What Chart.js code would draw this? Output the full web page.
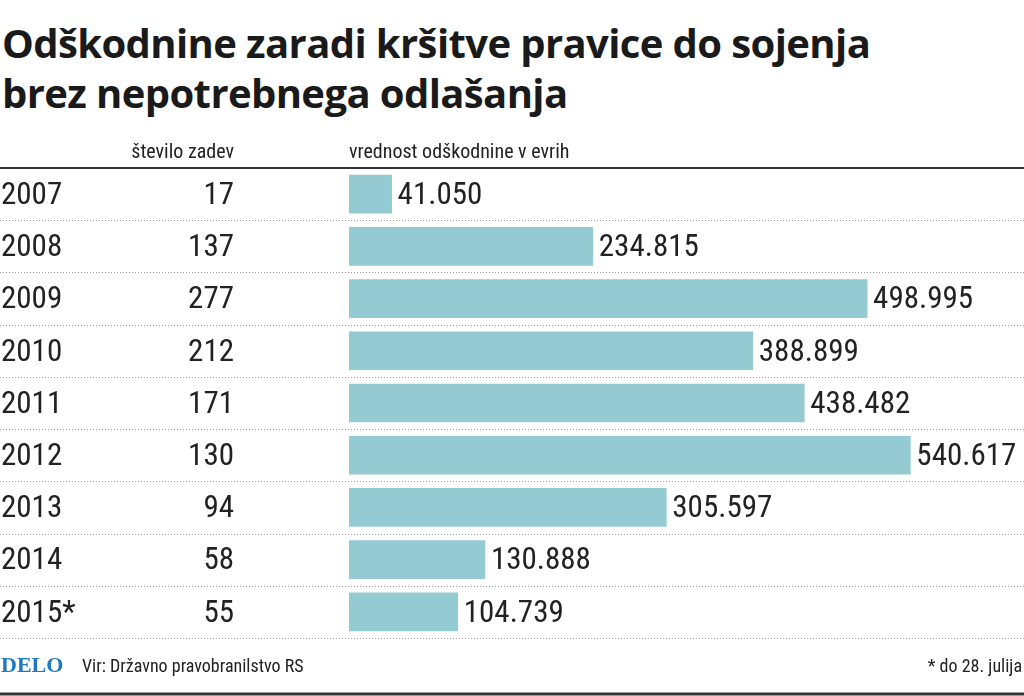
<!DOCTYPE html>
<html><head><meta charset="utf-8">
<script src="https://cdn.jsdelivr.net/npm/chart.js@4/dist/chart.umd.min.js"></script>
<style>
body{margin:0;background:#fff;overflow:hidden}
#wrap{position:relative;width:1024px;height:696px}
h1{position:absolute;left:2px;top:18px;margin:0;font:bold 40px "Open Sans",sans-serif;line-height:50px;color:#1a1a1a;letter-spacing:-0.6px}
canvas{position:absolute;left:0;top:0}
</style></head><body>
<div id="wrap">
<h1>Odškodnine zaradi kršitve pravice do sojenja<br>brez nepotrebnega odlašanja</h1>
<canvas id="c" width="1024" height="696"></canvas>
</div>
<script>
const years = ['2007','2008','2009','2010','2011','2012','2013','2014','2015*'];
const cases = [17,137,277,212,171,130,94,58,55];
const amounts = [41050,234815,498995,388899,438482,540617,305597,130888,104739];

const fmt = v => String(v).replace(/\B(?=(\d{3})+(?!\d))/g, '.');
const narrow = '"Roboto Condensed","Liberation Sans Narrow","Roboto",sans-serif';

const decor = {
  id: 'decor',
  afterDatasetsDraw(chart) {
    const ctx = chart.ctx, y = chart.scales.y, meta = chart.getDatasetMeta(0);
    const step = y.getPixelForValue(1) - y.getPixelForValue(0);
    ctx.save();
    ctx.fillStyle = '#222';
    ctx.font = '20px ' + narrow;
    ctx.textBaseline = 'alphabetic';
    ctx.textAlign = 'right';
    ctx.fillText('število zadev', 234, 158);
    ctx.textAlign = 'left';
    ctx.fillText('vrednost odškodnine v evrih', 349, 158);
    ctx.strokeStyle = '#333'; ctx.lineWidth = 2;
    ctx.beginPath(); ctx.moveTo(0, 168); ctx.lineTo(1024, 168); ctx.stroke();
    ctx.lineWidth = 3;
    ctx.beginPath(); ctx.moveTo(0, 694); ctx.lineTo(1024, 694); ctx.stroke();
    ctx.strokeStyle = '#999'; ctx.lineWidth = 1; ctx.setLineDash([1, 2]);
    for (let i = 0; i < years.length; i++) {
      const yy = Math.round(y.getPixelForValue(i) + step / 2) + 0.5;
      ctx.beginPath(); ctx.moveTo(0, yy); ctx.lineTo(1024, yy); ctx.stroke();
    }
    ctx.setLineDash([]);
    ctx.font = '31px ' + narrow;
    ctx.textBaseline = 'middle';
    years.forEach((yr, i) => {
      const py = y.getPixelForValue(i) + 2;
      ctx.textAlign = 'left';
      ctx.fillText(yr, 1, py);
      ctx.textAlign = 'right';
      ctx.fillText(String(cases[i]), 234, py);
      ctx.textAlign = 'left';
      ctx.fillText(fmt(amounts[i]), meta.data[i].x + 6, py);
    });
    ctx.font = 'bold 22px "Liberation Serif",serif';
    ctx.fillStyle = '#1f78c0';
    ctx.textBaseline = 'alphabetic';
    ctx.fillText('DELO', 1, 672);
    ctx.fillStyle = '#222';
    ctx.font = '18px ' + narrow;
    ctx.fillText('Vir: Državno pravobranilstvo RS', 82, 672);
    ctx.textAlign = 'right';
    ctx.fillText('* do 28. julija', 1022, 672);
    ctx.restore();
  }
};

new Chart(document.getElementById('c'), {
  type: 'bar',
  data: { labels: years, datasets: [{ data: amounts, backgroundColor: '#94cbd2', barThickness: 38 }] },
  options: {
    indexAxis: 'y', responsive: false, animation: false,
    layout: { padding: { left: 349, right: 52, top: 168, bottom: 58 } },
    plugins: { legend: { display: false }, tooltip: { enabled: false } },
    scales: {
      x: { display: false, min: 0, max: 600000 },
      y: { display: false }
    }
  },
  plugins: [decor]
});
</script>
</body></html>
